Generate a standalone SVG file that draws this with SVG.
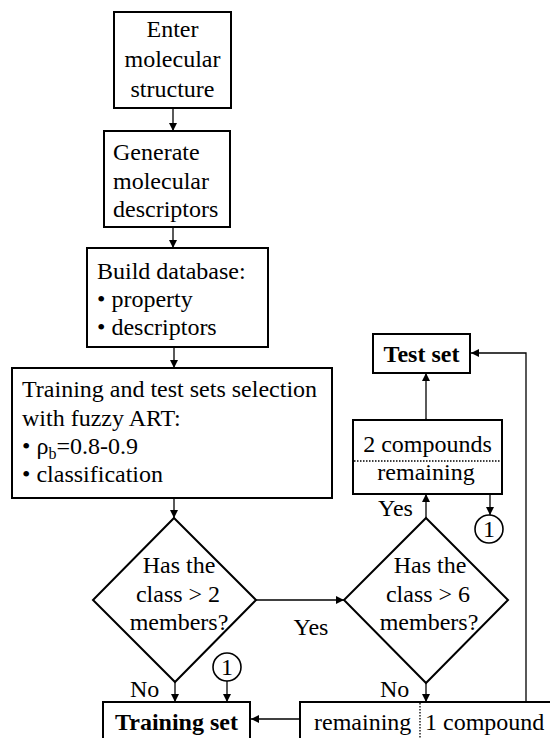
<svg xmlns="http://www.w3.org/2000/svg" width="550" height="738" viewBox="0 0 550 738">
<style>
  .box{fill:#fff;stroke:#000;stroke-width:2}
  .t{font-family:"Liberation Serif","Times New Roman",serif;font-size:24px;fill:#000}
  .c{text-anchor:middle}
  .b{font-weight:bold}
  .ln{stroke:#000;stroke-width:1.3;fill:none}
  .dot{stroke:#000;stroke-width:1.3;stroke-dasharray:1.5 1.5;fill:none}
</style>
<defs>
  <marker id="ah" viewBox="0 0 10 10" refX="10" refY="5" markerWidth="8" markerHeight="8" markerUnits="userSpaceOnUse" orient="auto">
    <path d="M0,0 L10,5 L0,10 z" fill="#000"/>
  </marker>
</defs>
<rect width="550" height="738" fill="#fff"/>

<g id="connectors">
  <line class="ln" x1="173" y1="108" x2="173" y2="131" marker-end="url(#ah)"/>
  <line class="ln" x1="173" y1="227" x2="173" y2="248" marker-end="url(#ah)"/>
  <line class="ln" x1="174" y1="347" x2="174" y2="368" marker-end="url(#ah)"/>
  <line class="ln" x1="174" y1="498" x2="174" y2="518" marker-end="url(#ah)"/>
  <line class="ln" x1="256" y1="600" x2="344" y2="600" marker-end="url(#ah)"/>
  <line class="ln" x1="175" y1="682" x2="175" y2="702" marker-end="url(#ah)"/>
  <line class="ln" x1="227" y1="681" x2="227" y2="702" marker-end="url(#ah)"/>
  <line class="ln" x1="426" y1="683" x2="426" y2="702" marker-end="url(#ah)"/>
  <line class="ln" x1="426" y1="518" x2="426" y2="494" marker-end="url(#ah)"/>
  <line class="ln" x1="426" y1="422" x2="426" y2="373" marker-end="url(#ah)"/>
  <circle cx="426" cy="422" r="3.2" fill="#000"/>
  <line class="ln" x1="490" y1="481" x2="490" y2="515" marker-end="url(#ah)"/>
  <circle cx="490" cy="481" r="3.2" fill="#000"/>
  <polyline class="ln" points="526,708 526,353 471,353" marker-end="url(#ah)"/>
  <circle cx="526" cy="708" r="3.2" fill="#000"/>
  <line class="ln" x1="307" y1="719" x2="251" y2="719" marker-end="url(#ah)"/>
  <circle cx="307" cy="719" r="3.2" fill="#000"/>
  <text class="t" x="130" y="697">No</text>
  <text class="t" x="380" y="697">No</text>
  <text class="t c" x="311" y="635">Yes</text>
  <text class="t" x="378" y="516">Yes</text>
</g>

<g id="enter">
  <rect class="box" x="114" y="12" width="117" height="96"/>
  <text class="t c" x="172.5" y="37">Enter</text>
  <text class="t c" x="172.5" y="67">molecular</text>
  <text class="t c" x="172.5" y="97">structure</text>
</g>

<g id="generate">
  <rect class="box" x="104" y="131" width="126" height="96"/>
  <text class="t" x="113" y="160">Generate</text>
  <text class="t" x="113" y="189">molecular</text>
  <text class="t" x="113" y="217">descriptors</text>
</g>

<g id="database">
  <rect class="box" x="87" y="248" width="181" height="99"/>
  <text class="t" x="97" y="279">Build database:</text>
  <text class="t" x="97" y="307">• property</text>
  <text class="t" x="97" y="335">• descriptors</text>
</g>

<g id="selection">
  <rect class="box" x="12" y="368" width="320" height="130"/>
  <text class="t" x="22" y="397">Training and test sets selection</text>
  <text class="t" x="22" y="426">with fuzzy ART:</text>
  <text class="t" x="22" y="454">• ρ<tspan font-size="16" dy="5">b</tspan><tspan dy="-5">=0.8-0.9</tspan></text>
  <text class="t" x="22" y="482">• classification</text>
</g>

<g id="decision1">
  <polygon class="box" points="174,518 256,600 175,682 93,600"/>
  <text class="t c" x="179" y="573">Has the</text>
  <text class="t c" x="178" y="602">class &gt; 2</text>
  <text class="t c" x="179" y="630">members?</text>
</g>

<g id="decision2">
  <polygon class="box" points="426,518 508,600 426,683 344,600"/>
  <text class="t c" x="430" y="573">Has the</text>
  <text class="t c" x="428" y="602">class &gt; 6</text>
  <text class="t c" x="429" y="630">members?</text>
</g>

<g id="two-compounds">
  <rect class="box" x="353" y="420" width="149" height="74"/>
  <line class="dot" x1="354" y1="461" x2="501" y2="461"/>
  <text class="t c" x="427.5" y="452">2 compounds</text>
  <text class="t c" x="426" y="480">remaining</text>
</g>

<g id="test-set">
  <rect class="box" x="373" y="334" width="97" height="39"/>
  <text class="t c b" x="421.5" y="362">Test set</text>
</g>

<g id="connector1-top">
  <circle cx="489" cy="529" r="14" fill="#fff" stroke="#000" stroke-width="1.6"/>
  <text class="t c" x="489" y="537" font-size="22">1</text>
</g>

<g id="connector1-bottom">
  <circle cx="227" cy="667" r="14" fill="#fff" stroke="#000" stroke-width="1.6"/>
  <text class="t c" x="227" y="675" font-size="22">1</text>
</g>

<g id="training-set">
  <rect class="box" x="103" y="702" width="147" height="50"/>
  <text class="t c b" x="176.5" y="730">Training set</text>
</g>

<g id="split-box">
  <rect class="box" x="300" y="702" width="270" height="50"/>
  <line class="dot" x1="420" y1="703" x2="420" y2="738"/>
  <text class="t" x="314" y="730">remaining</text>
  <text class="t" x="425" y="730">1 compound</text>
</g>
</svg>
